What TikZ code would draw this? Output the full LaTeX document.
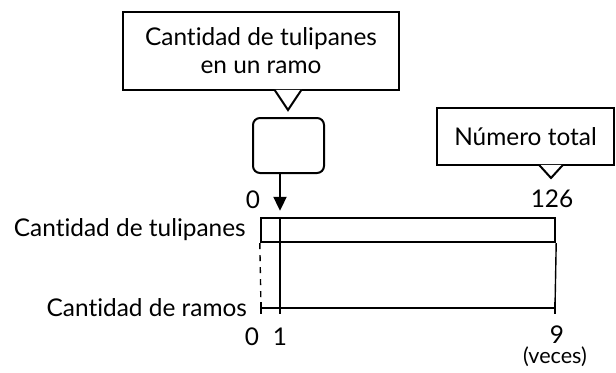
\documentclass[tikz,border=0pt]{standalone}
\usepackage{fontspec}
\setmainfont{Lato}[Ligatures={NoCommon,NoContextual}]
\usetikzlibrary{positioning}
\usetikzlibrary{arrows.meta}
\usetikzlibrary{calc}

\begin{document}
\begin{tikzpicture}[x=0.5pt, y=-0.5pt, font=\fontsize{12.2}{14}\selectfont,
    note/.style={draw, line width=1pt, fill=white, align=center, inner sep=0pt},
    tape/.style={draw, line width=1.2pt, minimum width=147pt, minimum height=12pt, inner sep=0pt},
    blank/.style={draw, line width=1pt, rounded corners=3.5pt, minimum width=35.5pt, minimum height=27.5pt, inner sep=0pt},
    tick/.style={line width=1pt}]
    \useasboundingbox (0,0) rectangle (616,372);

    % Tape of tulips
    \node[tape] (bar) at (408,230) {};
    \coordinate (r0) at (261,308);
    \coordinate (r1) at (280,308);
    \coordinate (r9) at (555,308);

    % Callouts
    \node[note, minimum width=138pt, minimum height=39pt] (q) at (261,51) {Cantidad de tulipanes\\en un ramo};
    \coordinate (qt) at (288,110);
    \draw[line width=1pt, fill=white] ($(q.south -| qt)+(-6.75pt,0.6pt)$) -- (qt) -- ($(q.south -| qt)+(6.75pt,0.6pt)$);

    \node[note, minimum width=88.5pt, minimum height=28.5pt] (tot) at (525.5,136.5) {Número total};
    \coordinate (tt) at (551,178);
    \draw[line width=1pt, fill=white] ($(tot.south -| tt)+(-6pt,0.6pt)$) -- (tt) -- ($(tot.south -| tt)+(6pt,0.6pt)$);

    \node[blank] (box) at (288.5,145.5) {};

    % Arrow into the first part
    \draw[-{Triangle[width=6.5pt,length=7pt]}, line width=1pt, shorten >=3pt] (box.south -| r1) -- (bar.north -| r1);

    % Left labels
    \node[left=3.5pt of bar.west] (lt) {Cantidad de tulipanes};
    \node[left=3.5pt of r0] (lr) {Cantidad de ramos};

    % Vertical links
    \draw[line width=0.7pt] (bar.north -| r1) -- (r1);
    \draw[line width=0.7pt, dashed] (bar.south west) -- (r0);
    \draw[line width=0.7pt] (bar.south east) -- (r9);

    % Line of bunches
    \draw[line width=1.2pt] (r0) -- (r9);
    \foreach \t in {r0,r1,r9}
        \draw[tick] ([yshift=3pt]\t) -- ([yshift=-3pt]\t);

    % Numbers
    \node (t0) at (253,200) {0};
    \node (t126) at (552,199) {126};
    \node (b0) at (252,337) {0};
    \node (b1) at (280,337) {1};
    \node (b9) at (557,335) {9};
    \node[font=\fontsize{10.8}{12}\selectfont] (vec) at (555,357) {(veces)};
\end{tikzpicture}
\end{document}
